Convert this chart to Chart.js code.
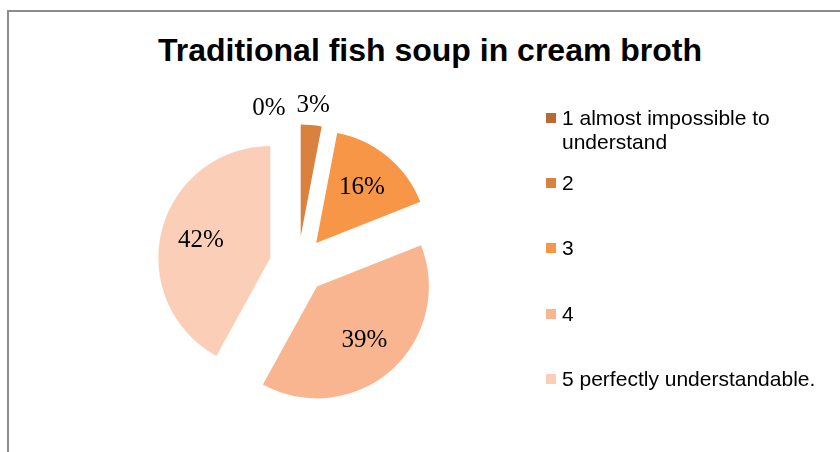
<!DOCTYPE html>
<html>
<head>
<meta charset="utf-8">
<script src="https://cdn.jsdelivr.net/npm/chart.js@4.4.0/dist/chart.umd.min.js"></script>
<style>
  html, body { margin: 0; padding: 0; background: #fff; overflow: hidden; }
  body { width: 840px; height: 452px; position: relative; font-family: "Liberation Sans", Arial, sans-serif; }
  #frame { position: absolute; left: 7px; top: 10px; width: 900px; height: 500px; border: 2px solid #8c8c8c; box-sizing: border-box; }
  #title { position: absolute; left: 0; top: 32px; width: 860px; text-align: center; font-weight: bold; font-size: 32px; line-height: 36px; color: #000; }
  #pie { position: absolute; left: 0; top: 0; }
  .legend-item { position: absolute; left: 546px; display: flex; align-items: flex-start; font-size: 21px; line-height: 24px; color: #000; }
  .legend-box { width: 10px; height: 10px; margin-top: 7px; margin-right: 6px; flex: none; }
  .legend-text { width: 280px; }
</style>
</head>
<body>
<div id="frame"></div>
<div id="title">Traditional fish soup in cream broth</div>
<canvas id="pie" width="840" height="452"></canvas>
<div id="legend"></div>
<script>
// data
const categories = ['1 almost impossible to understand', '2', '3', '4', '5 perfectly understandable.'];
const shares = [0, 3, 16, 39, 42];
const sliceColors = ['#B96A34', '#D9823F', '#F79646', '#F9B590', '#FBCEB7'];

// layout
const EXPLODE = 0.255;          // slice pull-out, fraction of radius
const legendTops = [106, 171, 236, 302, 367];

// every slice is pulled out from the centre along its middle angle
const explodePlugin = {
    id: 'explode',
    beforeDatasetDraw(chart, args) {
        const ctx = chart.ctx;
        args.meta.data.forEach(arc => {
            const p = arc.getProps(['startAngle', 'endAngle', 'outerRadius'], true);
            const mid = (p.startAngle + p.endAngle) / 2;
            const d = p.outerRadius * EXPLODE;
            ctx.save();
            ctx.translate(Math.cos(mid) * d, Math.sin(mid) * d);
            arc.draw(ctx, chart.chartArea);
            ctx.restore();
        });
        return false;
    }
};

// percentage labels: inside big slices, outside small ones
const labelPlugin = {
    id: 'sliceLabels',
    afterDatasetsDraw(chart) {
        const ctx = chart.ctx;
        const arcs = chart.getDatasetMeta(0).data;
        ctx.save();
        ctx.font = '25px "Liberation Serif", "Times New Roman", serif';
        ctx.fillStyle = '#000';
        ctx.textAlign = 'center';
        ctx.textBaseline = 'middle';
        const spots = arcs.map((arc, i) => {
            const p = arc.getProps(['x', 'y', 'startAngle', 'endAngle', 'outerRadius'], true);
            const mid = (p.startAngle + p.endAngle) / 2;
            const r = p.outerRadius;
            const dist = r * EXPLODE + (shares[i] >= 10 ? r * 0.64 : r * 1.18);
            return {
                x: p.x + Math.cos(mid) * dist,
                y: p.y + Math.sin(mid) * dist,
                text: shares[i] + '%'
            };
        });
        // empty slices would sit on top of their neighbour's label
        for (let i = spots.length - 2; i >= 0; i--) {
            if (shares[i] === 0) {
                const w = ctx.measureText(spots[i].text).width;
                const nw = ctx.measureText(spots[i + 1].text).width;
                spots[i].x = Math.min(spots[i].x, spots[i + 1].x - nw / 2 - 11 - w / 2);
                spots[i].y = spots[i + 1].y + 3;
            }
        }
        spots.forEach(s => ctx.fillText(s.text, s.x, s.y));
        ctx.restore();
    }
};

new Chart(document.getElementById('pie'), {
    type: 'pie',
    data: {
        labels: categories,
        datasets: [{
            data: shares,
            backgroundColor: sliceColors,
            borderWidth: 0,
            radius: 112
        }]
    },
    options: {
        responsive: false,
        animation: false,
        devicePixelRatio: 1,
        layout: {
            padding: { left: 186, right: 430, top: 153, bottom: 75 }
        },
        plugins: {
            legend: { display: false },
            tooltip: { enabled: false }
        }
    },
    plugins: [explodePlugin, labelPlugin]
});

// legend
const legend = document.getElementById('legend');
categories.forEach((name, i) => {
    const item = document.createElement('div');
    item.className = 'legend-item';
    item.style.top = legendTops[i] + 'px';
    const box = document.createElement('span');
    box.className = 'legend-box';
    box.style.background = sliceColors[i];
    const text = document.createElement('span');
    text.className = 'legend-text';
    text.textContent = name;
    item.appendChild(box);
    item.appendChild(text);
    legend.appendChild(item);
});
</script>
</body>
</html>
